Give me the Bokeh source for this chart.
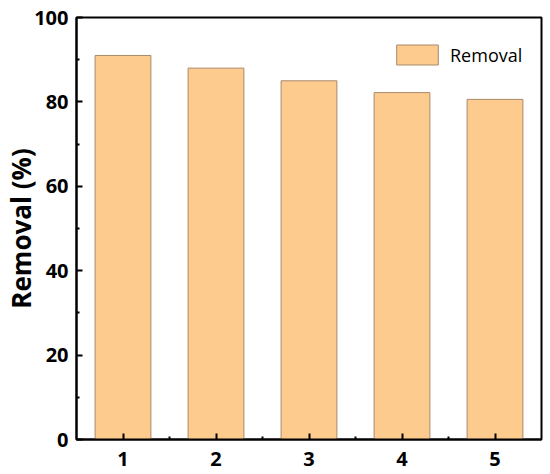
from bokeh.plotting import figure
from bokeh.models import ColumnDataSource, FixedTicker, Range1d, Legend, LegendItem
from bokeh.embed import file_html
from bokeh.resources import INLINE

cycles = [1, 2, 3, 4, 5]
removal = [91.0, 88.0, 85.0, 82.2, 80.6]
y_ticks = [0, 20, 40, 60, 80, 100]

src = ColumnDataSource(dict(x=cycles, top=removal))

p = figure(frame_width=465, frame_height=422, output_backend="svg", toolbar_location=None,
           x_range=Range1d(0.5, 5.5), y_range=Range1d(0, 100),
           min_border_left=69, min_border_top=17, min_border_right=8, min_border_bottom=35)
p.background_fill_color = "white"
p.border_fill_color = "white"
p.grid.visible = False
p.outline_line_color = "black"
p.outline_line_width = 2

r = p.vbar(x="x", top="top", width=0.6, bottom=0, source=src,
           fill_color="#FECB8F", line_color="#A8896A", line_width=1)

font = "Open Sans"
for ax in (p.xaxis[0], p.yaxis[0]):
    ax.axis_line_width = 2
    ax.axis_line_color = "black"
    ax.major_tick_in = 6
    ax.major_tick_out = 0
    ax.minor_tick_in = 3
    ax.minor_tick_out = 0
    ax.major_tick_line_width = 2
    ax.minor_tick_line_width = 2
    ax.major_label_text_font = font
    ax.major_label_text_font_style = "bold"
    ax.major_label_text_font_size = "20px"
    ax.major_label_text_color = "black"

p.xaxis.ticker = FixedTicker(ticks=cycles, minor_ticks=[1.5, 2.5, 3.5, 4.5])
p.xaxis.major_label_standoff = 12
p.yaxis.ticker = FixedTicker(ticks=y_ticks, minor_ticks=[10, 30, 50, 70, 90])
p.yaxis.major_label_standoff = 8
p.yaxis.axis_label = "Removal (%)"
p.yaxis.axis_label_text_font = font
p.yaxis.axis_label_text_font_style = "bold"
p.yaxis.axis_label_text_font_size = "26px"
p.yaxis.axis_label_text_color = "black"
p.yaxis.axis_label_standoff = -8

legend = Legend(items=[LegendItem(label="Removal", renderers=[r])],
                location=(315, 372), orientation="vertical")
legend.glyph_width = 52
legend.glyph_height = 25
legend.padding = 0
legend.margin = 0
legend.spacing = 0
legend.label_standoff = 7
legend.label_text_font = font
legend.label_text_font_size = "18px"
legend.label_text_color = "black"
legend.border_line_color = None
legend.background_fill_alpha = 0
p.add_layout(legend, "center")

open("out.html", "w").write(file_html(p, INLINE))
